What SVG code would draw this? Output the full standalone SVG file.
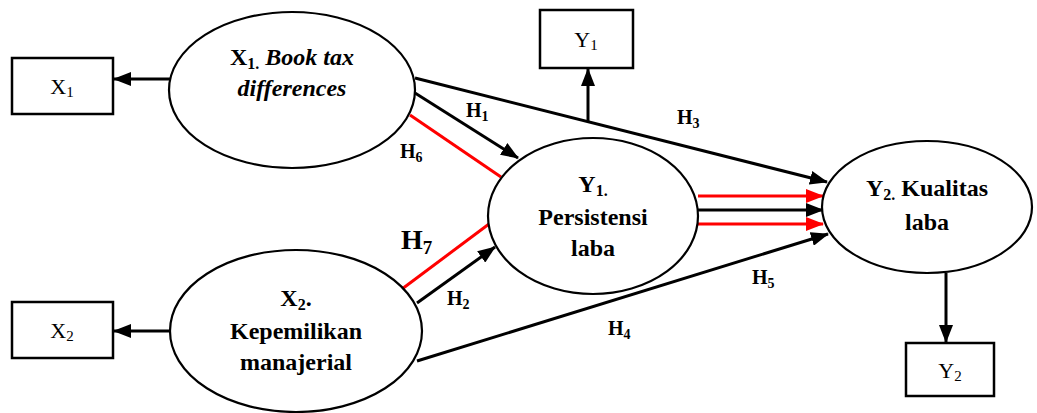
<svg xmlns="http://www.w3.org/2000/svg" width="1037" height="413" viewBox="0 0 1037 413">
<style>
.el{fill:#fff;stroke:#000;stroke-width:2.2}
.bx{fill:#fff;stroke:#000;stroke-width:2.5}
text{font-family:'Liberation Serif','Times New Roman',Tinos,'DejaVu Serif',serif;fill:#000}
.t{font-weight:bold;font-size:24px;text-anchor:middle}
.bt{font-size:22px;text-anchor:middle}
.h{font-weight:bold;font-size:20px}
.h7{font-weight:bold;font-size:28px}
.k{stroke:#000;stroke-width:3;fill:none}
.r{stroke:#f00;stroke-width:3;fill:none}
</style>
<defs>
<marker id="ab" markerUnits="userSpaceOnUse" markerWidth="18" markerHeight="14" refX="17" refY="7" orient="auto"><path d="M0,0 L18,7 L0,14 z" fill="#000"/></marker>
<marker id="ar" markerUnits="userSpaceOnUse" markerWidth="18" markerHeight="14" refX="17" refY="7" orient="auto"><path d="M0,0 L18,7 L0,14 z" fill="#f00"/></marker>
</defs>
<g id="connectors">
<line class="k" x1="170" y1="79" x2="114" y2="79" marker-end="url(#ab)"/>
<line class="k" x1="170" y1="331" x2="114" y2="331" marker-end="url(#ab)"/>
<line class="k" x1="415" y1="78" x2="827" y2="182" marker-end="url(#ab)"/>
<line class="k" x1="588" y1="121" x2="588" y2="69" marker-end="url(#ab)"/>
<line class="k" x1="415" y1="93" x2="518" y2="158" marker-end="url(#ab)"/>
<line class="r" x1="410" y1="115" x2="501" y2="177"/>
<line class="r" x1="402" y1="289" x2="489" y2="224"/>
<line class="k" x1="417" y1="303" x2="495" y2="247" marker-end="url(#ab)"/>
<line class="k" x1="417" y1="361" x2="828" y2="234" marker-end="url(#ab)"/>
<line class="r" x1="698" y1="196" x2="823" y2="196" marker-end="url(#ar)"/>
<line class="k" x1="698" y1="210" x2="823" y2="210" marker-end="url(#ab)"/>
<line class="r" x1="698" y1="224" x2="823" y2="224" marker-end="url(#ar)"/>
<line class="k" x1="946" y1="273" x2="946" y2="342" marker-end="url(#ab)"/>
</g>
<g id="labels">
<text class="h" x="466" y="117">H<tspan font-size="14" dy="4">1</tspan></text>
<text class="h" x="400" y="158">H<tspan font-size="14" dy="4">6</tspan></text>
<text class="h" x="677" y="124">H<tspan font-size="14" dy="4">3</tspan></text>
<text class="h7" x="401" y="249">H<tspan font-size="19" dy="5">7</tspan></text>
<text class="h" x="447" y="305">H<tspan font-size="14" dy="4">2</tspan></text>
<text class="h" x="752" y="284">H<tspan font-size="14" dy="4">5</tspan></text>
<text class="h" x="608" y="335">H<tspan font-size="14" dy="4">4</tspan></text>
</g>
<g id="nodeX1">
<ellipse class="el" cx="292" cy="90" rx="123" ry="78"/>
<text class="t" x="292" y="65">X<tspan font-size="16" dy="4">1.</tspan><tspan dy="-4" font-style="italic"> Book tax</tspan></text>
<text class="t" x="292" y="96" font-style="italic">differences</text>
</g>
<g id="nodeX2">
<ellipse class="el" cx="296" cy="331" rx="126" ry="81"/>
<text class="t" x="296" y="306">X<tspan font-size="16" dy="4">2</tspan><tspan dy="-4">.</tspan></text>
<text class="t" x="296" y="339">Kepemilikan</text>
<text class="t" x="296" y="370">manajerial</text>
</g>
<g id="nodeY1">
<ellipse class="el" cx="593" cy="216" rx="105" ry="78"/>
<text class="t" x="593" y="192">Y<tspan font-size="16" dy="4">1.</tspan></text>
<text class="t" x="593" y="225">Persistensi</text>
<text class="t" x="593" y="256">laba</text>
</g>
<g id="nodeY2">
<ellipse class="el" cx="927" cy="207" rx="105" ry="66"/>
<text class="t" x="927" y="196">Y<tspan font-size="16" dy="4">2.</tspan><tspan dy="-4"> Kualitas</tspan></text>
<text class="t" x="927" y="230">laba</text>
</g>
<g id="boxX1">
<rect class="bx" x="12" y="58" width="101" height="56"/>
<text class="bt" x="62" y="94">X<tspan font-size="15" dy="3">1</tspan></text>
</g>
<g id="boxX2">
<rect class="bx" x="12" y="302" width="101" height="56"/>
<text class="bt" x="62" y="338">X<tspan font-size="15" dy="3">2</tspan></text>
</g>
<g id="boxY1">
<rect class="bx" x="540" y="10" width="93" height="58"/>
<text class="bt" x="586" y="47">Y<tspan font-size="15" dy="3">1</tspan></text>
</g>
<g id="boxY2">
<rect class="bx" x="906" y="343" width="88" height="53"/>
<text class="bt" x="950" y="378">Y<tspan font-size="15" dy="3">2</tspan></text>
</g>
</svg>
